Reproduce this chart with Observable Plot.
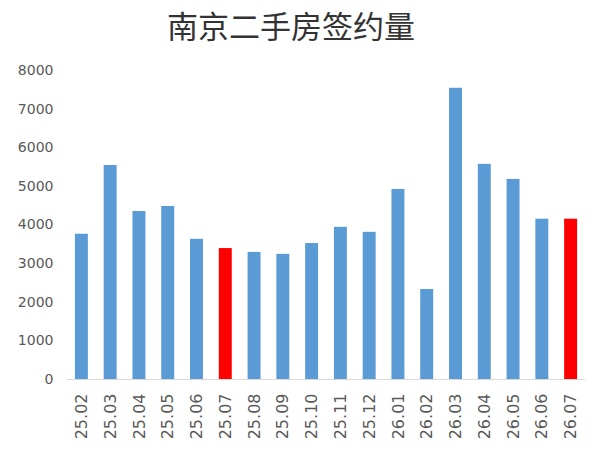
<!DOCTYPE html>
<html>
<head>
<meta charset="utf-8">
<script src="https://cdn.jsdelivr.net/npm/d3@7"></script>
<script src="https://cdn.jsdelivr.net/npm/@observablehq/plot@0.6"></script>
<style>
  body { margin: 0; background: #fff; }
  #wrap { width: 594px; }
  #title { height: 60px; box-sizing: border-box; padding-top: 9px; padding-right: 12px; line-height: 31px;
    font-family: "Noto Sans CJK SC", sans-serif; font-size: 31px; color: #333; text-align: center; }
</style>
</head>
<body>
<div id="wrap">
  <div id="title">南京二手房签约量</div>
  <div id="chart"></div>
</div>
<script>
const months = ["25.02","25.03","25.04","25.05","25.06","25.07","25.08","25.09","25.10","25.11","25.12","26.01","26.02","26.03","26.04","26.05","26.06","26.07"];
const values = [3760, 5540, 4350, 4480, 3630, 3390, 3290, 3240, 3520, 3940, 3810, 4920, 2330, 7540, 5570, 5180, 4150, 4150];
const highlighted = ["25.07", "26.07"];
const yTicks = [0, 1000, 2000, 3000, 4000, 5000, 6000, 7000, 8000];

const data = months.map((m, i) => ({month: m, value: values[i], hi: highlighted.includes(m)}));

const chart = Plot.plot({
  width: 594,
  height: 399,
  marginTop: 10,
  marginBottom: 80,
  marginLeft: 67,
  marginRight: 9,
  style: {fontFamily: "'DejaVu Sans', sans-serif", background: "#fff"},
  x: {domain: months, paddingInner: 0.55, paddingOuter: 0.275, round: false},
  y: {domain: [0, 8000]},
  marks: [
    Plot.barY(data, {x: "month", y: "value", fill: d => d.hi ? "#ff0000" : "#5b9bd5"}),
    Plot.ruleY([0], {stroke: "#d9d9d9", strokeWidth: 1}),
    Plot.axisY({ticks: yTicks, tickSize: 0, tickPadding: 14, fontSize: 14, color: "#595959", label: null, tickFormat: d => String(d)}),
    Plot.axisX({tickSize: 0, tickPadding: 14, tickRotate: -90, fontSize: 16, color: "#595959", label: null})
  ]
});
document.getElementById("chart").appendChild(chart);
</script>
</body>
</html>
